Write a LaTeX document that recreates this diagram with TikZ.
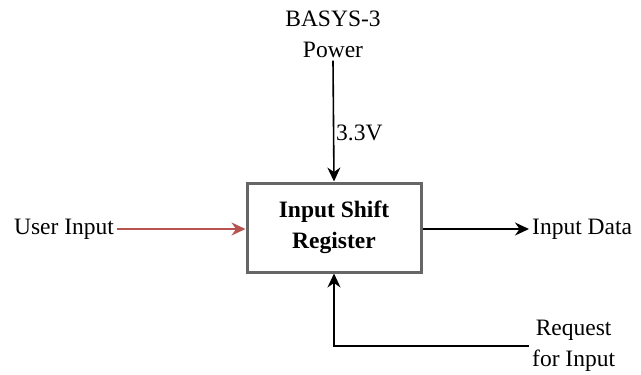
\documentclass[tikz,border=0pt]{standalone}
\usepackage{fontspec}
\setmainfont{Liberation Serif}
\usetikzlibrary{arrows.meta}
\definecolor{boxgray}{HTML}{666666}
\definecolor{redline}{HTML}{B85450}
\begin{document}
\begin{tikzpicture}[x=1pt,y=-1pt,
  txt/.style={font=\fontsize{23.5}{31}\selectfont, align=center, inner sep=3pt},
  box/.style={draw=boxgray, line width=3pt, fill=white, minimum width=174pt, minimum height=89pt,
    font=\bfseries\fontsize{23.5}{31}\selectfont, align=center},
  arr/.style={line width=1.6pt, -{Stealth[length=14pt,width=13pt]}}]
\useasboundingbox (0,0) rectangle (641,375);
\node[box] (reg) at (334,227.5) {Input Shift\\Register};
\node[txt] (pwr) at (333,34) {BASYS-3\\Power};
\node[txt, anchor=west] (v) at (333,133) {3.3V};
\node[txt] (user) at (64,229) {User Input};
\node[txt, anchor=west] (data) at (529,229) {Input Data};
\node[txt, anchor=west] (req) at (529,346) {Request\\for Input};
\draw[arr] (pwr.south) -- (reg.north);
\draw[arr, draw=redline, fill=redline] (user.east) -- (user.east -| reg.west);
\draw[arr] (reg.east |- data.west) -- (data.west);
\draw[arr] (req.west) -| (reg.south);
\end{tikzpicture}
\end{document}
